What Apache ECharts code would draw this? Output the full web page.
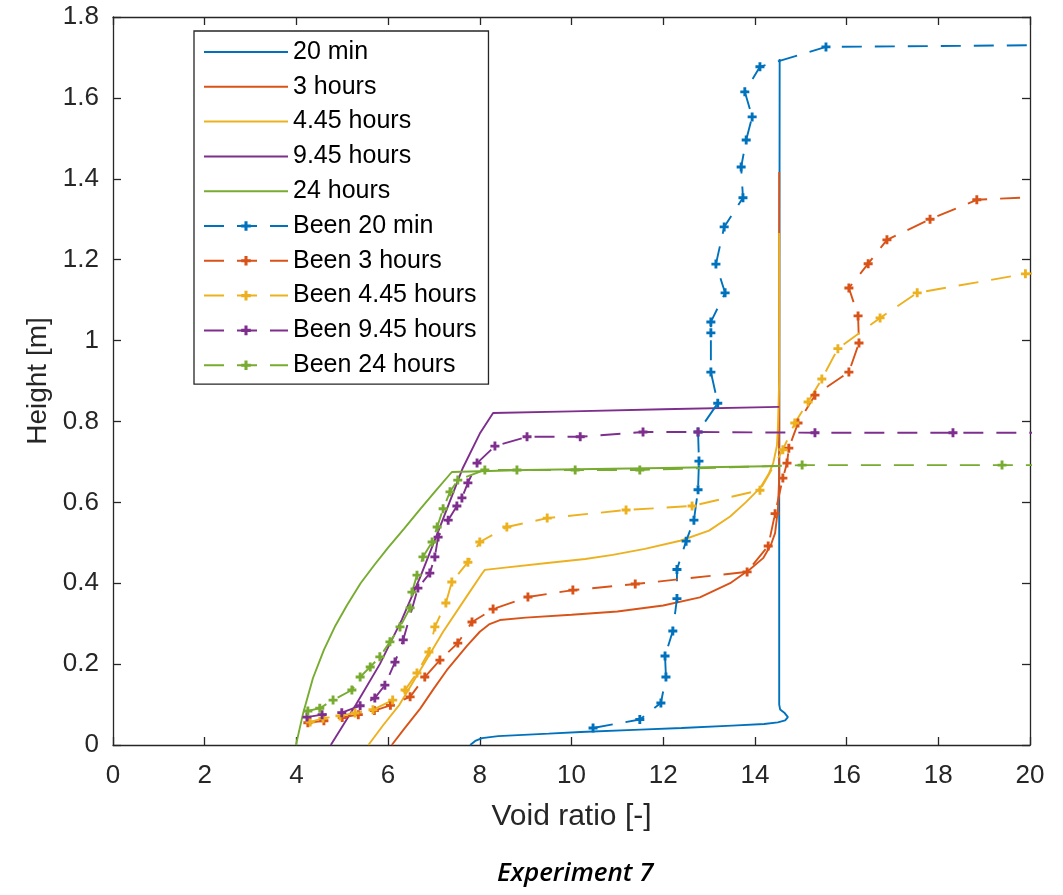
<!DOCTYPE html>
<html>
<head>
<meta charset="utf-8">
<script src="https://cdn.jsdelivr.net/npm/echarts@6/dist/echarts.min.js"></script>
<style>
html,body{margin:0;padding:0;background:#fff;}
#c{width:1063px;height:895px;}
</style>
</head>
<body>
<div id="c"></div>
<script>
// ---- data: [void ratio, height] ----
const seriesNames = ['20 min','3 hours','4.45 hours','9.45 hours','24 hours',
  'Been 20 min','Been 3 hours','Been 4.45 hours','Been 9.45 hours','Been 24 hours'];

const sim20min = [[7.79,0],[7.9,0.01],[8.05,0.017],[8.4,0.022],[9.5,0.028],[10.2,0.032],[11.5,0.038],[12.4,0.042],[13.5,0.048],[14.2,0.052],[14.5,0.056],[14.66,0.061],[14.72,0.069],[14.65,0.079],[14.55,0.088],[14.53,0.1],[14.53,0.6],[14.54,1.696]];
const sim3h = [[6.08,0],[6.35,0.04],[6.7,0.09],[7.0,0.14],[7.28,0.185],[7.72,0.245],[8.0,0.28],[8.2,0.298],[8.44,0.309],[9.0,0.315],[10.0,0.322],[11.0,0.33],[12.0,0.345],[12.8,0.365],[13.46,0.4],[13.9,0.435],[14.18,0.462],[14.35,0.495],[14.44,0.524],[14.5,0.58],[14.53,0.66],[14.53,1.417]];
const sim445h = [[5.57,0],[5.9,0.05],[6.25,0.1],[6.7,0.185],[7.2,0.28],[7.7,0.365],[8.05,0.424],[8.11,0.433],[8.5,0.438],[9.47,0.45],[10.3,0.46],[10.9,0.47],[11.6,0.485],[12.37,0.505],[13.0,0.53],[13.46,0.565],[13.8,0.6],[14.11,0.635],[14.3,0.67],[14.4,0.697],[14.48,0.74],[14.5,0.78],[14.53,0.9],[14.53,1.266]];
const sim945h = [[4.75,0],[5.3,0.1],[5.82,0.2],[6.3,0.31],[6.7,0.415],[7.1,0.53],[7.63,0.685],[8.0,0.77],[8.29,0.821],[10,0.825],[12,0.83],[14.53,0.836]];
const sim24h = [[3.99,0],[4.05,0.03],[4.15,0.08],[4.36,0.165],[4.6,0.235],[4.85,0.295],[5.1,0.345],[5.4,0.4],[5.7,0.445],[6.0,0.488],[6.35,0.535],[6.7,0.583],[7.05,0.63],[7.39,0.675],[9,0.68],[12,0.685],[14.55,0.69]];

const been20min = [[10.47,0.042],[11.49,0.063],[11.95,0.104],[12.06,0.168],[12.04,0.22],[12.21,0.282],[12.3,0.362],[12.3,0.434],[12.5,0.504],[12.67,0.556],[12.76,0.631],[12.78,0.702],[12.76,0.774],[13.19,0.845],[13.04,0.922],[13.04,1.019],[13.04,1.046],[13.35,1.118],[13.15,1.189],[13.33,1.281],[13.74,1.353],[13.7,1.429],[13.81,1.496],[13.94,1.553],[13.78,1.615],[14.11,1.677],[15.55,1.726],[21,1.731]];
const been3h = [[4.25,0.055],[4.6,0.06],[5.0,0.068],[5.35,0.075],[5.7,0.085],[6.05,0.098],[6.48,0.119],[6.8,0.168],[7.13,0.21],[7.52,0.252],[7.83,0.304],[8.29,0.336],[9.05,0.366],[10.03,0.383],[11.39,0.398],[13.83,0.428],[14.29,0.492],[14.44,0.572],[14.61,0.66],[14.7,0.697],[14.74,0.734],[14.94,0.796],[15.31,0.865],[16.05,0.922],[16.27,0.994],[16.25,1.061],[16.05,1.13],[16.47,1.19],[16.88,1.249],[17.82,1.3],[18.84,1.348],[21,1.36]];
const been445h = [[4.3,0.057],[4.58,0.066],[4.95,0.072],[5.28,0.079],[5.67,0.087],[6.1,0.111],[6.37,0.136],[6.63,0.178],[6.89,0.23],[7.02,0.292],[7.26,0.351],[7.39,0.403],[7.74,0.452],[8.0,0.502],[8.59,0.539],[9.47,0.561],[11.19,0.581],[12.63,0.591],[14.11,0.63],[14.61,0.73],[14.87,0.796],[15.16,0.848],[15.46,0.905],[15.81,0.98],[16.73,1.056],[17.54,1.118],[19.9,1.165],[21,1.17]];
const been945h = [[4.23,0.069],[4.56,0.075],[4.99,0.08],[5.39,0.097],[5.71,0.116],[5.93,0.148],[6.15,0.205],[6.33,0.26],[6.65,0.388],[6.91,0.425],[7.02,0.465],[7.09,0.514],[7.31,0.556],[7.5,0.591],[7.61,0.611],[7.74,0.648],[7.94,0.697],[8.33,0.739],[9.03,0.762],[10.19,0.762],[11.56,0.774],[12.76,0.774],[15.31,0.772],[18.32,0.772],[21,0.772]];
const been24h = [[4.25,0.084],[4.51,0.091],[4.8,0.111],[5.21,0.136],[5.39,0.168],[5.61,0.193],[5.82,0.218],[6.04,0.255],[6.26,0.292],[6.48,0.339],[6.52,0.378],[6.63,0.42],[6.76,0.465],[6.96,0.502],[7.07,0.539],[7.2,0.584],[7.35,0.626],[7.52,0.655],[8.11,0.68],[8.81,0.68],[10.08,0.68],[11.49,0.68],[15.03,0.692],[19.39,0.692],[21,0.692]];

const xTicks = {min:0, max:20, interval:2};
const yTicks = {min:0, max:1.8, interval:0.2};

const colors = ['#0072BD','#D95319','#EDB120','#7E2F8E','#77AC30'];
const allData = [sim20min, sim3h, sim445h, sim945h, sim24h, been20min, been3h, been445h, been945h, been24h];

const plusPath = 'path://M3.4,0H6.6V3.4H10V6.6H6.6V10H3.4V6.6H0V3.4H3.4Z';
const axisColor = '#262626';
const fontFam = '"Liberation Sans", Arial, Helvetica, sans-serif';

const series = allData.map((d, i) => {
  const dashed = i >= 5;
  return {
    name: seriesNames[i],
    type: 'line',
    data: d,
    xAxisIndex: 0, yAxisIndex: 0,
    color: colors[i % 5],
    showSymbol: dashed,
    symbol: dashed ? plusPath : 'none',
    symbolSize: 9,
    showAllSymbol: true,
    clip: true,
    lineStyle: {width: 1.9, type: dashed ? [20, 13] : 'solid', color: colors[i % 5]},
    itemStyle: {color: colors[i % 5]},
    emphasis: {disabled: true},
    animation: false
  };
});

const legendData = seriesNames.map((n, i) => i < 5
  ? {name: n, itemStyle: {opacity: 0}}
  : {name: n});

function mkAxis(t, pos, main, isY) {
  return {
    type: 'value', position: pos, min: t.min, max: t.max, interval: t.interval,
    axisLine: {show: true, onZero: false, lineStyle: {color: axisColor, width: 1.3}},
    axisTick: {show: true, inside: true, length: 8, lineStyle: {color: axisColor, width: 1.3}},
    splitLine: {show: false},
    axisLabel: {show: main, color: axisColor, fontSize: 26, fontFamily: fontFam, margin: isY ? 14 : 18,
      formatter: v => String(Math.round(v * 10) / 10)},
  };
}

const xMain = Object.assign(mkAxis(xTicks, 'bottom', true, false), {
  name: 'Void ratio [-]', nameLocation: 'middle', nameGap: 57,
  nameTextStyle: {color: axisColor, fontSize: 30, fontFamily: fontFam}
});
const yMain = Object.assign(mkAxis(yTicks, 'left', true, true), {
  name: 'Height [m]', nameLocation: 'middle', nameGap: 60,
  nameTextStyle: {color: axisColor, fontSize: 28, fontFamily: fontFam}
});

const chart = echarts.init(document.getElementById('c'), null, {renderer: 'canvas'});
chart.setOption({
  animation: false,
  backgroundColor: '#ffffff',
  grid: {left: 113, right: 33, top: 17, bottom: 150, containLabel: false},
  xAxis: [xMain, mkAxis(xTicks, 'top', false, false)],
  yAxis: [yMain, mkAxis(yTicks, 'right', false, true)],
  legend: {
    orient: 'vertical', left: 194, top: 31,
    data: legendData,
    itemWidth: 84, itemHeight: 12, itemGap: 4.8,
    selectedMode: false,
    backgroundColor: '#ffffff', borderColor: axisColor, borderWidth: 1.3,
    padding: [6, 12, 4, 9],
    textStyle: {color: '#000', fontSize: 25, fontFamily: fontFam, lineHeight: 30}
  },
  graphic: [{
    type: 'text', left: 497, top: 861,
    style: {text: 'Experiment 7', fontSize: 26, fontStyle: 'italic', fontWeight: 600, fontFamily: '"Open Sans", "Noto Sans", sans-serif', fill: '#000'}
  }],
  series: series
});
</script>
</body>
</html>
